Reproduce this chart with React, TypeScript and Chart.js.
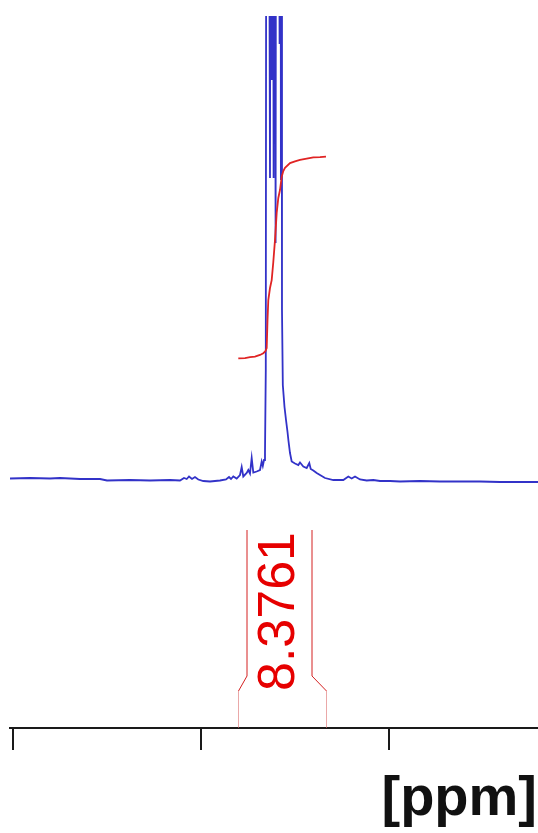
import React, { useEffect, useRef } from 'react';
import { Chart, registerables } from 'chart.js';

Chart.register(...registerables);

// ---- data ----
const SPECTRUM_PPM = [
  3.008, 2.9548, 2.9016, 2.875, 2.8218, 2.7686, 2.75, 2.6888, 2.6356, 2.5824,
  2.5559, 2.5452, 2.538, 2.5319, 2.5239, 2.516, 2.5072, 2.4939, 2.4761, 2.4495,
  2.4335, 2.4255, 2.4202, 2.4141, 2.4051, 2.3963, 2.3918, 2.3875, 2.3785, 2.3742,
  2.3697, 2.3652, 2.3609, 2.3519, 2.3431, 2.3386, 2.3356, 2.3324, 2.3298, 2.3277,
  2.3255, 2.3218, 2.3165, 2.3138, 2.3117, 2.3096, 2.3069, 2.3043, 2.3016, 2.2995,
  2.2952, 2.291, 2.2891, 2.2875, 2.2859, 2.2846, 2.2824, 2.2779, 2.2739, 2.2699,
  2.2673, 2.2633, 2.2588, 2.25, 2.2412, 2.2367, 2.2279, 2.2189, 2.212, 2.2082,
  2.2013, 2.1923, 2.1835, 2.1702, 2.1481, 2.1215, 2.1082, 2.0992, 2.0904, 2.0771,
  2.0593, 2.0418, 2.0239, 1.9973, 1.9707, 1.9176, 1.8644, 1.8112, 1.758, 1.7048,
  1.6516, 1.6037,
];
const SPECTRUM_INTENSITY = [
  1.5, 2, 1.5, 2, 1, 1, -0.5, 0, -0.5, 0,
  -0.5, 2, 1, 3.5, 1, 3, 0.5, -1, -1.5, -0.5,
  0.5, 3, 1, 3.5, 1.5, 5, 13, 3.5, 7, 10,
  6.5, 22, 7.5, 8.5, 10, 18.5, 14, 20, 27, 110,
  1080, 1030, 302, 1080, 400, 1080, 302, 1080, 237, 1080,
  980, 436, 1080, 300, 880, 170, 95, 73, 60, 48,
  39, 27, 18.5, 16.5, 15, 17.5, 13.5, 12, 17, 11,
  9.5, 7, 5, 2, 0, 0, 3.5, 1.5, 3.5, 0.5,
  -0.5, 0, -1, -1, -1.5, -1, -1.5, -1.5, -1.5, -2,
  -2, -2,
];

const INTEGRAL_PPM = [
  2.4008, 2.383, 2.3697, 2.3564, 2.3431, 2.3343, 2.3285, 2.3253, 2.3231, 2.321,
  2.3165, 2.312, 2.3077, 2.3032, 2.2987, 2.2944, 2.2899, 2.2854, 2.2811, 2.2766,
  2.2633, 2.25, 2.2367, 2.2189, 2.2013, 2.1835, 2.1676,
];
const INTEGRAL_VALUE = [
  0, 0.01, 0.05, 0.07, 0.14, 0.21, 0.3, 0.43, 1.59, 2.42,
  2.92, 3.25, 4.0, 4.91, 6.04, 6.66, 6.99, 7.54, 7.78, 7.91,
  8.11, 8.18, 8.24, 8.3, 8.35, 8.36, 8.3761,
];
const INTEGRAL_LABEL = '8.3761';

const X_MIN = 1.6037;
const X_MAX = 3.008;
const X_STEP = 0.5;
const Y_MIN = -248;
const Y_MAX = 464;
const INT_MIN = -15.359;
const INT_MAX = 14.221;
const AXIS_TITLE = '[ppm]';

const annotationPlugin = {
  id: 'nmrAnnotations',
  afterDatasetsDraw(chart: any) {
    const { ctx, chartArea, scales } = chart;
    const xs = scales.x;
    const xl = Math.round(xs.getPixelForValue(INTEGRAL_PPM[0])) + 0.5;
    const xr = Math.round(xs.getPixelForValue(INTEGRAL_PPM[INTEGRAL_PPM.length - 1])) + 0.5;
    const base = chartArea.bottom;
    const cx = (xl + xr) / 2 - 3;
    const half = 32.5;
    ctx.save();
    ctx.lineWidth = 1;
    ctx.strokeStyle = 'rgba(220,110,110,0.6)';
    ctx.beginPath();
    ctx.moveTo(xl, base);
    ctx.lineTo(xl, base - 37);
    ctx.moveTo(xr, base);
    ctx.lineTo(xr, base - 37);
    ctx.stroke();
    ctx.strokeStyle = '#d42020';
    ctx.beginPath();
    ctx.moveTo(xl, base - 37);
    ctx.lineTo(cx - half, base - 52);
    ctx.lineTo(cx - half, base - 198);
    ctx.moveTo(xr, base - 37);
    ctx.lineTo(cx + half, base - 52);
    ctx.lineTo(cx + half, base - 198);
    ctx.stroke();
    ctx.save();
    ctx.translate(cx, base - 116.5);
    ctx.rotate(-Math.PI / 2);
    ctx.fillStyle = '#e60000';
    ctx.font = '52px "Liberation Sans", Arial, sans-serif';
    ctx.textAlign = 'center';
    ctx.textBaseline = 'middle';
    ctx.fillText(INTEGRAL_LABEL, 0, 0);
    ctx.restore();
    // axis unit title, right-aligned under the axis
    ctx.fillStyle = '#111';
    ctx.font = 'bold 56px "Liberation Sans", Arial, sans-serif';
    ctx.textAlign = 'right';
    ctx.textBaseline = 'alphabetic';
    ctx.fillText(AXIS_TITLE, chartArea.right - 1, base + 87);
    ctx.restore();
  },
};

export default function App() {
  const ref = useRef<HTMLCanvasElement | null>(null);

  useEffect(() => {
    if (!ref.current) return;
    const spectrum = SPECTRUM_PPM.map((x, i) => ({ x, y: SPECTRUM_INTENSITY[i] }));
    const integral = INTEGRAL_PPM.map((x, i) => ({ x, y: INTEGRAL_VALUE[i] }));
    const chart = new Chart(ref.current, {
      type: 'line',
      data: {
        datasets: [
          {
            label: 'integral',
            data: integral,
            yAxisID: 'yI',
            borderColor: '#e02424',
            borderWidth: 1.8,
            pointRadius: 0,
            tension: 0,
            order: 1,
            clip: 0,
          },
          {
            label: 'spectrum',
            data: spectrum,
            yAxisID: 'y',
            borderColor: '#3232c8',
            borderWidth: 1.8,
            pointRadius: 0,
            tension: 0,
            order: 2,
            clip: 0,
          },
        ],
      },
      options: {
        animation: false,
        responsive: false,
        devicePixelRatio: 1,
        layout: { padding: { left: 10, top: 16, right: 0, bottom: 83 } },
        plugins: { legend: { display: false }, tooltip: { enabled: false } },
        scales: {
          x: {
            type: 'linear',
            reverse: true,
            min: X_MIN,
            max: X_MAX,
            ticks: { display: false, stepSize: X_STEP, includeBounds: false },
            grid: { drawOnChartArea: false, drawTicks: true, tickLength: 22, color: '#1a1a1a', lineWidth: 2 },
            border: { display: true, color: '#1a1a1a', width: 2 },
          },
          y: { display: false, min: Y_MIN, max: Y_MAX },
          yI: { display: false, min: INT_MIN, max: INT_MAX },
        },
      },
      plugins: [annotationPlugin],
    });
    return () => chart.destroy();
  }, []);

  return (
    <div style={{ position: 'absolute', left: 0, top: 0, width: 538, height: 833, background: '#fff' }}>
      <canvas ref={ref} width={538} height={833} style={{ display: 'block' }} />
    </div>
  );
}
